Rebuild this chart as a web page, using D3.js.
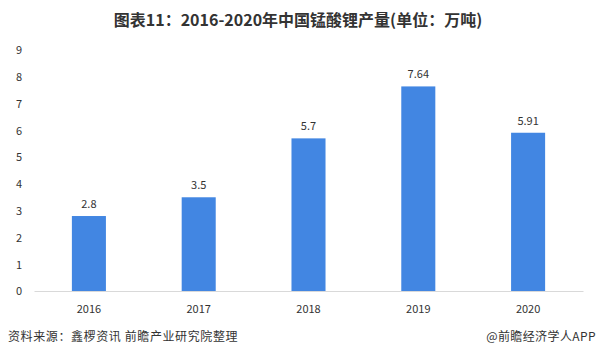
<!DOCTYPE html>
<html><head><meta charset="utf-8">
<script src="https://cdn.jsdelivr.net/npm/d3@7/dist/d3.min.js"></script>
<style>body{margin:0;background:#fff}svg{display:block}</style>
</head><body>
<script>
const categories = ["2016","2017","2018","2019","2020"];
const values = [2.8, 3.5, 5.7, 7.64, 5.91];
const labels = ["2.8","3.5","5.7","7.64","5.91"];
const yTicks = [0,1,2,3,4,5,6,7,8,9];
const title = "图表11：2016-2020年中国锰酸锂产量(单位：万吨)";
const source = "资料来源：鑫椤资讯 前瞻产业研究院整理";
const brand = "@前瞻经济学人APP";

const W = 597, H = 357;
const font = "'Microsoft YaHei','Noto Sans CJK SC',sans-serif";
const svg = d3.select("body").append("svg").attr("width", W).attr("height", H);

const x = d3.scaleBand().domain(categories).range([34, 583]).paddingInner(0.69).paddingOuter(0.345);
const y = d3.scaleLinear().domain([0, 9]).range([291, 50]);

svg.append("text").attr("x", 298).attr("y", 26).attr("text-anchor", "middle")
  .style("font-family", font).style("font-size", "16px").style("font-weight", "bold").attr("fill", "#333")
  .text(title);

const yAxis = svg.append("g").attr("transform", "translate(22,0)")
  .call(d3.axisLeft(y).tickValues(yTicks).tickSize(0).tickFormat(d3.format("d")));
yAxis.select(".domain").remove();
yAxis.selectAll("text").attr("x", 0).attr("dy", "0.35em").attr("text-anchor", "end")
  .style("font-family", font).style("font-size", "11px").attr("fill", "#333");

svg.selectAll("rect.bar").data(values).join("rect").attr("class", "bar")
  .attr("x", (d, i) => x(categories[i])).attr("width", x.bandwidth())
  .attr("y", d => y(d)).attr("height", d => y(0) - y(d)).attr("fill", "#4286E2");

svg.selectAll("text.lbl").data(values).join("text").attr("class", "lbl")
  .attr("x", (d, i) => x(categories[i]) + x.bandwidth() / 2).attr("y", d => y(d) - 8)
  .attr("text-anchor", "middle").style("font-family", font).style("font-size", "11px").attr("fill", "#333")
  .text((d, i) => labels[i]);

const xAxis = svg.append("g").attr("transform", "translate(0,291)")
  .call(d3.axisBottom(x).tickSize(0).tickPadding(14));
xAxis.select(".domain").attr("stroke", "#d9d9d9").attr("stroke-width", 1);
xAxis.selectAll("text").style("font-family", font).style("font-size", "11px").attr("fill", "#333");

svg.append("text").attr("x", 8).attr("y", 341)
  .style("font-family", font).style("font-size", "12px").style("letter-spacing", "0.6px").attr("fill", "#333").text(source);
svg.append("text").attr("x", 596).attr("y", 341).attr("text-anchor", "end")
  .style("font-family", font).style("font-size", "12px").style("letter-spacing", "0.4px").attr("fill", "#333").text(brand);
</script>
</body></html>
